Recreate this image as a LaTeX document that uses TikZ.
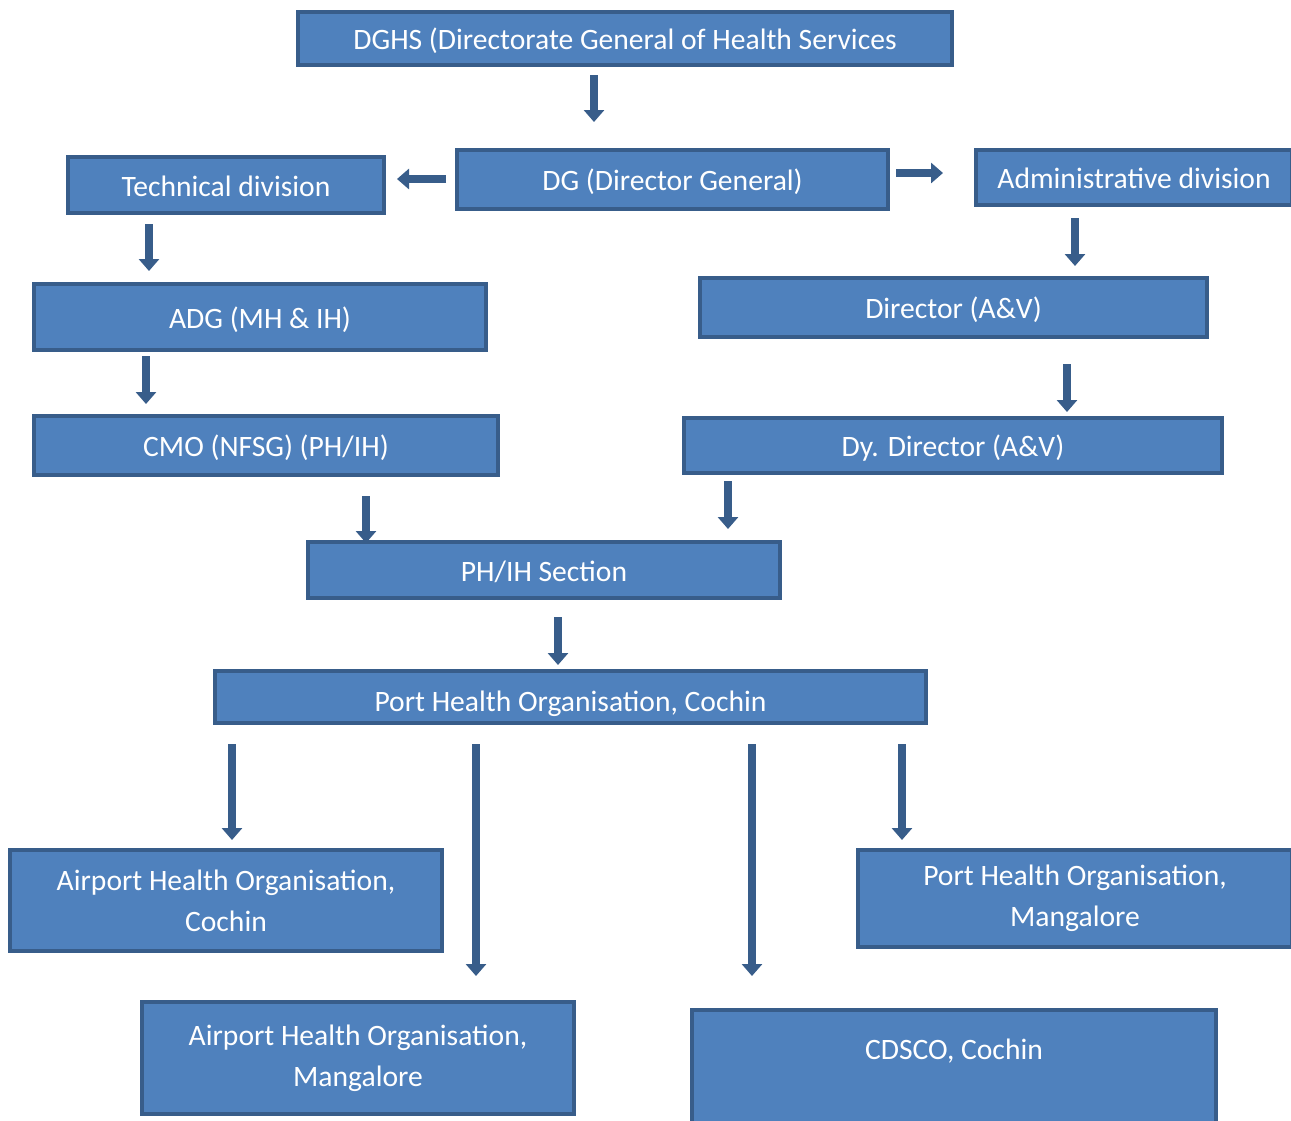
\documentclass[tikz,border=0pt]{standalone}
\usepackage{fontspec}
\setmainfont{Carlito}
\usetikzlibrary{arrows.meta}
\definecolor{boxfill}{HTML}{4F81BD}
\definecolor{boxline}{HTML}{385D8A}

\begin{document}
\begin{tikzpicture}[x=0.5pt,y=-0.5pt,
  box/.style={draw=boxline,fill=boxfill,line width=2pt,text=white,align=center,
    inner sep=0pt,font=\fontsize{14.8}{20.5}\selectfont},
  onebox/.style={box,text height=14pt,text depth=3pt},
  blk/.style={boxline,line width=4pt,-{Triangle[width=10pt,length=6pt]}}]
\clip (0,0) rectangle (1291,1120);
\fill[white] (0,0) rectangle (1291,1120);

  \node[onebox,minimum width=327pt,minimum height=26.5pt]   (dghs)   at (625,38.5)   {DGHS (Directorate General of Health Services};
  \node[onebox,minimum width=215.5pt,minimum height=29.5pt] (dg)     at (672.5,179.5) {DG (Director General)};
  \node[onebox,minimum width=158pt,minimum height=28pt]     (tech)   at (226,185)    {Technical division};
  \node[onebox,minimum width=158pt,minimum height=27.5pt]   (admin)  at (1134,177.5) {Administrative division};
  \node[onebox,minimum width=226pt,minimum height=33pt]     (adg)    at (260,317)    {ADG (MH \& IH)};
  \node[onebox,minimum width=253.5pt,minimum height=29.5pt] (dir)    at (953.5,307.5) {Director (A\&V)};
  \node[onebox,minimum width=232pt,minimum height=29.5pt]   (cmo)    at (266,445.5)  {CMO (NFSG) (PH/IH)};
  \node[onebox,minimum width=269pt,minimum height=27.5pt]   (dy)     at (953,445.5)  {Dy. Director (A\&V)};
  \node[onebox,minimum width=236pt,minimum height=28pt]     (phih)   at (544,570)    {PH/IH Section};
  \node[onebox,minimum width=355.5pt,minimum height=26pt,text height=14.5pt,text depth=0pt] (pcochin) at (570.5,697) {Port Health Organisation, Cochin};
  \node[box,minimum width=216pt,minimum height=50.5pt]   (acochin) at (226,900.5) {Airport Health Organisation,\\Cochin};
  \node[box,minimum width=217pt,minimum height=48.5pt]   (pmang)  at (1075,898.5) {Port Health Organisation,\\Mangalore};
  \node[box,minimum width=216pt,minimum height=56pt]     (amang)  at (358,1058)   {Airport Health Organisation,\\Mangalore};
  \node[onebox,minimum width=262pt,minimum height=56.5pt,text depth=21pt] (cdsco) at (954,1066.5) {CDSCO, Cochin};

  % top part
  \draw[blk,shorten <=4pt,shorten >=13pt]   (dghs.south -| 594,0) -- (dg.north -| 594,0);
  \draw[blk,shorten <=4.5pt,shorten >=5.5pt] (dg.west |- 0,179) -- (tech.east |- 0,179);
  \draw[blk,shorten <=3pt,shorten >=15.5pt]  (dg.east |- 0,173) -- (admin.west |- 0,173);
  \draw[blk,shorten <=4.5pt,shorten >=5.5pt] (tech.south -| 149,0) -- (adg.north -| 149,0);
  \draw[blk,shorten <=2pt,shorten >=5pt]     (adg.south -| 146,0) -- (cmo.north -| 146,0);
  \draw[blk,shorten <=5.5pt,shorten >=5pt]   (admin.south -| 1075,0) -- (dir.north -| 1075,0);
  \draw[blk,shorten <=12.5pt,shorten >=2pt]  (dir.south -| 1067,0) -- (dy.north -| 1067,0);
  \draw[blk,shorten <=9.5pt,shorten >=-1.5pt] (cmo.south -| 366,0) -- (phih.north -| 366,0);
  \draw[blk,shorten <=3pt,shorten >=5.5pt]   (dy.south -| 728,0) -- (phih.north -| 728,0);
  \draw[blk,shorten <=8.5pt,shorten >=2pt]   (phih.south -| 558,0) -- (pcochin.north -| 558,0);

  % offices under Cochin
  \draw[blk,shorten <=9.5pt,shorten >=4pt]   (pcochin.south -| 232,0) -- (acochin.north -| 232,0);
  \draw[blk,shorten <=9.5pt,shorten >=12pt]  (pcochin.south -| 476,0) -- (amang.north -| 476,0);
  \draw[blk,shorten <=9.5pt,shorten >=16pt]  (pcochin.south -| 752,0) -- (cdsco.north -| 752,0);
  \draw[blk,shorten <=9.5pt,shorten >=4pt]   (pcochin.south -| 902,0) -- (pmang.north -| 902,0);

\end{tikzpicture}
\end{document}
